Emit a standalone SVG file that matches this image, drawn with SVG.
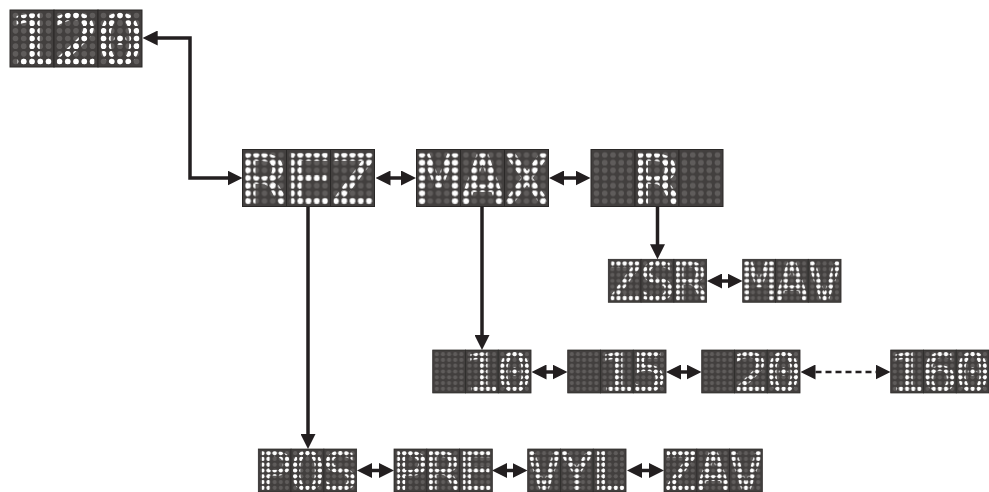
<svg xmlns="http://www.w3.org/2000/svg" xmlns:xlink="http://www.w3.org/1999/xlink" width="989" height="492" viewBox="0 0 989 492">
<style>
.mod{fill:url(#dim);stroke:#2a2827;stroke-width:1}
.ch{font-family:"DejaVu Sans Mono","Liberation Mono",monospace;font-weight:normal;font-size:68px;fill:url(#lit);stroke:url(#lit);stroke-width:2.2;text-anchor:middle}
.ln{fill:none;stroke:#231f20;stroke-width:3.5}
.dbl{marker-start:url(#ah);marker-end:url(#ah)}
.one{marker-end:url(#ah)}
.dash{stroke-width:2.5;stroke-dasharray:6 4}
</style>
<defs>
<g id="row">
<circle cx="5.5" cy="0" r="2.8"/><circle cx="13.75" cy="0" r="2.8"/><circle cx="22" cy="0" r="2.8"/><circle cx="30.25" cy="0" r="2.8"/><circle cx="38.5" cy="0" r="2.8"/>
</g>
<g id="grid">
<use href="#row" y="5.5"/><use href="#row" y="13.17"/><use href="#row" y="20.83"/><use href="#row" y="28.5"/><use href="#row" y="36.17"/><use href="#row" y="43.83"/><use href="#row" y="51.5"/>
</g>
<pattern id="dim" width="44" height="57" patternUnits="userSpaceOnUse">
<rect width="44" height="57" fill="#423f3e"/>
<use href="#grid" fill="#5f5c5b"/>
</pattern>
<pattern id="lit" width="44" height="57" patternUnits="userSpaceOnUse" patternTransform="scale(0.869565,1)">
<use href="#grid" fill="#ffffff"/>
</pattern>
<g id="disp">
<rect class="mod" x="0" y="0" width="44" height="57"/>
<rect class="mod" x="44" y="0" width="44" height="57"/>
<rect class="mod" x="88" y="0" width="44" height="57"/>
</g>
<marker id="ah" markerUnits="userSpaceOnUse" markerWidth="15" markerHeight="15" viewBox="0 0 15 15" refX="10" refY="7.5" orient="auto-start-reverse">
<path d="M0,0 L15,7.5 L0,15 Z" fill="#231f20"/>
</marker>
</defs>

<g id="connectors">
<path class="ln dbl" d="M147.7,38 H190 V178 H237.5"/>
<path class="ln dbl" d="M380.5,178 H411"/>
<path class="ln dbl" d="M554,178 H585.5"/>
<path class="ln one" d="M308,207 V444"/>
<path class="ln one" d="M482,207 V345"/>
<path class="ln one" d="M657.5,207 V254.3"/>
<path class="ln dbl" d="M712,281 H737.5"/>
<path class="ln dbl" d="M536.5,372 H562.5"/>
<path class="ln dbl" d="M671,372 H696.5"/>
<path class="ln dbl dash" d="M805.5,372 H885.5"/>
<path class="ln dbl" d="M362,470.5 H389"/>
<path class="ln dbl" d="M497,470.5 H522.5"/>
<path class="ln dbl" d="M632,470.5 H659"/>
</g>

<g id="n120" transform="translate(10,10)"><use href="#disp"/><text class="ch" transform="scale(1.15,1)" x="19.13 57.39 95.65" y="54">120</text></g>
<g id="nREZ" transform="translate(242.5,149.5)"><use href="#disp"/><text class="ch" transform="scale(1.15,1)" x="19.13 57.39 95.65" y="54">REZ</text></g>
<g id="nMAX" transform="translate(416.5,149.5)"><use href="#disp"/><text class="ch" transform="scale(1.15,1)" x="19.13 57.39 95.65" y="54">MAX</text></g>
<g id="nR" transform="translate(591,149.5)"><use href="#disp"/><text class="ch" transform="scale(1.15,1)" x="57.39" y="54">R</text></g>
<g id="nZSR" transform="translate(608.3,259.3) scale(0.745,0.754)"><use href="#disp"/><text class="ch" transform="scale(1.15,1)" x="19.13 57.39 95.65" y="54">ZSR</text></g>
<g id="nMAV" transform="translate(742.7,259.3) scale(0.745,0.754)"><use href="#disp"/><text class="ch" transform="scale(1.15,1)" x="19.13 57.39 95.65" y="54">MAV</text></g>
<g id="n10" transform="translate(432.7,350) scale(0.745,0.754)"><use href="#disp"/><text class="ch" transform="scale(1.15,1)" x="57.39 95.65" y="54">10</text></g>
<g id="n15" transform="translate(567.7,350) scale(0.745,0.754)"><use href="#disp"/><text class="ch" transform="scale(1.15,1)" x="57.39 95.65" y="54">15</text></g>
<g id="n20" transform="translate(701.7,350) scale(0.745,0.754)"><use href="#disp"/><text class="ch" transform="scale(1.15,1)" x="57.39 95.65" y="54">20</text></g>
<g id="n160" transform="translate(890.7,350) scale(0.745,0.754)"><use href="#disp"/><text class="ch" transform="scale(1.15,1)" x="19.13 57.39 95.65" y="54">160</text></g>
<g id="nPOS" transform="translate(258.3,449) scale(0.745,0.754)"><use href="#disp"/><text class="ch" transform="scale(1.15,1)" x="19.13 57.39 95.65" y="54">POS</text></g>
<g id="nPRE" transform="translate(394,449) scale(0.745,0.754)"><use href="#disp"/><text class="ch" transform="scale(1.15,1)" x="19.13 57.39 95.65" y="54">PRE</text></g>
<g id="nVYL" transform="translate(527.7,449) scale(0.745,0.754)"><use href="#disp"/><text class="ch" transform="scale(1.15,1)" x="19.13 57.39 95.65" y="54">VYL</text></g>
<g id="nZAV" transform="translate(664,449) scale(0.745,0.754)"><use href="#disp"/><text class="ch" transform="scale(1.15,1)" x="19.13 57.39 95.65" y="54">ZAV</text></g>
</svg>
